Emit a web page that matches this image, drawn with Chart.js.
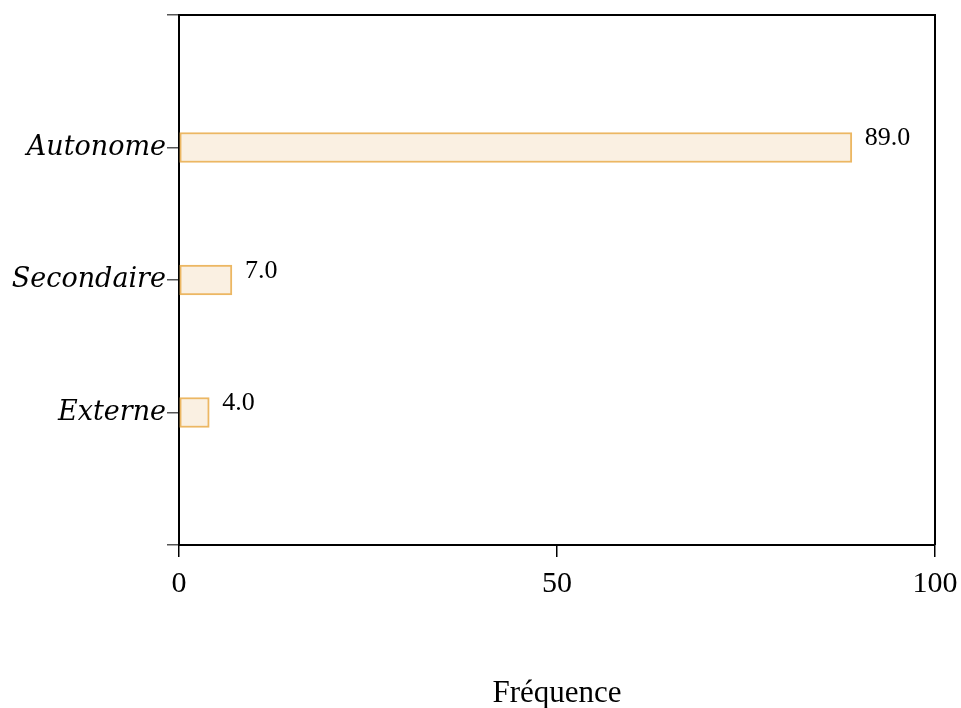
<!DOCTYPE html>
<html><head><meta charset="utf-8">
<script src="https://cdn.jsdelivr.net/npm/chart.js@4.4.1/dist/chart.umd.min.js"></script>
<style>html,body{margin:0;padding:0;background:#fff}#wrap{width:961px;height:708px}</style>
</head><body><div id="wrap"><canvas id="c" width="961" height="708"></canvas></div>
<script>
const categories = ['', 'Autonome', 'Secondaire', 'Externe', ''];
const frequencies = [null, 89, 7, 4, null];
const xTicks = [0, 50, 100];
const xTitle = 'Fréquence';

const frame = {
  id: 'frame',
  afterDatasetsDraw(chart) {
    const {ctx, chartArea: a} = chart;
    ctx.save();
    ctx.strokeStyle = '#000'; ctx.lineWidth = 2;
    ctx.beginPath();
    ctx.moveTo(a.left, a.top); ctx.lineTo(a.right, a.top); ctx.lineTo(a.right, a.bottom);
    ctx.stroke();
    const meta = chart.getDatasetMeta(0);
    ctx.fillStyle = '#000';
    ctx.font = '26px "Liberation Serif"';
    ctx.textBaseline = 'middle'; ctx.textAlign = 'left';
    meta.data.forEach((el, i) => {
      const v = frequencies[i];
      if (v == null) return;
      ctx.fillText(v.toFixed(1), el.x + 13, el.y - 9);
    });
    ctx.restore();
  }
};

new Chart(document.getElementById('c'), {
  type: 'bar',
  data: {
    labels: categories,
    datasets: [{
      data: frequencies,
      backgroundColor: '#FAF0E2',
      borderColor: '#ECB763',
      borderWidth: 2,
      borderSkipped: false,
      barThickness: 30
    }]
  },
  options: {
    indexAxis: 'y',
    responsive: false,
    animation: false,
    devicePixelRatio: 1,
    layout: {padding: {top: 15, right: 26, left: 0, bottom: 0}},
    plugins: {legend: {display: false}, tooltip: {enabled: false}},
    scales: {
      y: {
        type: 'category',
        offset: false,
        grid: {offset: false, drawOnChartArea: false, drawTicks: true, tickLength: 12, color: '#555', lineWidth: 1.5},
        border: {display: true, color: '#000', width: 2},
        ticks: {font: {family: '"DejaVu Serif"', style: 'italic', size: 27}, color: '#000', padding: 1, autoSkip: false},
        afterFit(s) { s.width = 179; s.paddingTop = 0; s.paddingBottom = 0; }
      },
      x: {
        type: 'linear',
        min: 0, max: 100,
        afterBuildTicks(s) { s.ticks = xTicks.map(v => ({value: v})); },
        grid: {drawOnChartArea: false, drawTicks: true, tickLength: 12, color: '#000', lineWidth: 1.5},
        border: {display: true, color: '#000', width: 2},
        ticks: {font: {family: '"Liberation Serif"', size: 30}, color: '#000', padding: 9, maxRotation: 0},
        title: {display: true, text: xTitle, font: {family: '"Liberation Serif"', size: 31}, color: '#000', padding: {top: 0, bottom: -4}},
        afterFit(s) { s.height = 163; s.paddingLeft = 0; s.paddingRight = 0; }
      }
    }
  },
  plugins: [frame]
});
</script>
</body></html>
